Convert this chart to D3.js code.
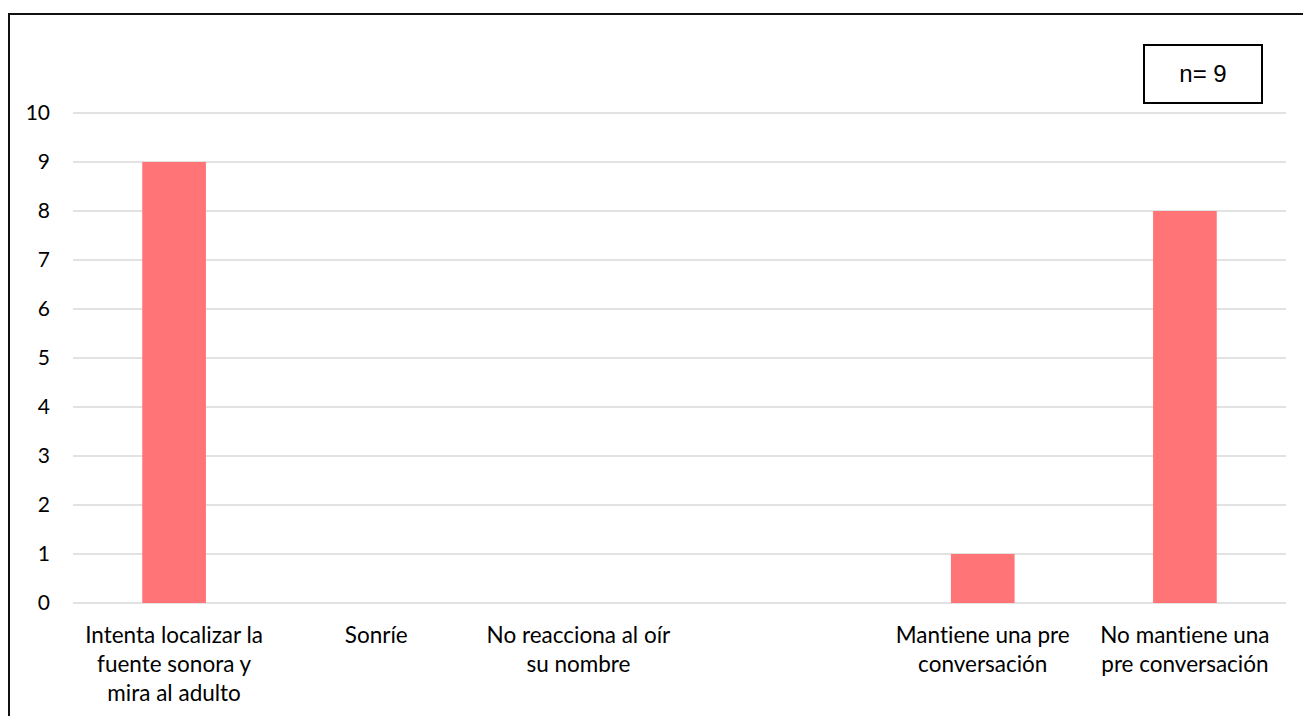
<!DOCTYPE html>
<html>
<head>
<meta charset="utf-8">
<script src="https://cdn.jsdelivr.net/npm/d3@7"></script>
<style>
  body { margin: 0; background: #fff; overflow: hidden; }
  .tick-label, .cat-label { font-family: Lato, "Open Sans", sans-serif; fill: #000; font-variant-ligatures: none; }
</style>
</head>
<body>
<div id="chart"></div>
<script>
/* DATA */
const categories = [
  "Intenta localizar la\nfuente sonora y\nmira al adulto",
  "Sonríe",
  "No reacciona al oír\nsu nombre",
  "",
  "Mantiene una pre\nconversación",
  "No mantiene una\npre conversación"
];
const counts = [9, 0, 0, 0, 1, 8];
const yTicks = [0, 1, 2, 3, 4, 5, 6, 7, 8, 9, 10];
const noteText = "n= 9";

/* CONSTANTS */
const width = 1303,
  height = 716,
  margin = { top: 113, bottom: 113, left: 73, right: 17 };

const svg = d3.select("#chart")
  .append("svg")
  .attr("width", width)
  .attr("height", height);

// outer frame (runs off the right and bottom edges)
svg.append("rect")
  .attr("x", 9)
  .attr("y", 14)
  .attr("width", 1400)
  .attr("height", 800)
  .attr("fill", "none")
  .attr("stroke", "#111")
  .attr("stroke-width", 2);

// scales
const xScale = d3.scaleBand()
  .domain(d3.range(categories.length))
  .range([margin.left, width - margin.right])
  .paddingInner(0.685)
  .paddingOuter(0.3425);

const yScale = d3.scaleLinear()
  .domain([0, 10])
  .range([height - margin.bottom, margin.top]);

// gridlines
svg.append("g")
  .selectAll("line")
  .data(yTicks)
  .join("line")
  .attr("x1", margin.left)
  .attr("x2", width - margin.right)
  .attr("y1", d => yScale(d))
  .attr("y2", d => yScale(d))
  .attr("stroke", "#d9d9d9")
  .attr("stroke-width", 1.3);

// y tick labels
svg.append("g")
  .selectAll("text")
  .data(yTicks)
  .join("text")
  .attr("class", "tick-label")
  .attr("x", 50)
  .attr("y", d => yScale(d))
  .attr("dy", "0.35em")
  .attr("text-anchor", "end")
  .attr("font-size", 21)
  .text(d => d);

// bars
svg.append("g")
  .selectAll("rect")
  .data(counts)
  .join("rect")
  .attr("x", (d, i) => xScale(i))
  .attr("width", xScale.bandwidth())
  .attr("y", d => yScale(d))
  .attr("height", d => yScale(0) - yScale(d))
  .attr("fill", "#ff7577");

// category labels
const labels = svg.append("g")
  .selectAll("text")
  .data(categories)
  .join("text")
  .attr("class", "cat-label")
  .attr("text-anchor", "middle")
  .attr("font-size", 22.5)
  .attr("transform", (d, i) => `translate(${xScale(i) + xScale.bandwidth() / 2},643)`);

labels.selectAll("tspan")
  .data(d => d.split("\n"))
  .join("tspan")
  .attr("x", 0)
  .attr("y", (d, i) => i * 29)
  .text(d => d);

// n box
svg.append("rect")
  .attr("x", 1144)
  .attr("y", 45)
  .attr("width", 118)
  .attr("height", 58)
  .attr("fill", "#fff")
  .attr("stroke", "#000")
  .attr("stroke-width", 2);

svg.append("text")
  .attr("x", 1203)
  .attr("y", 82)
  .attr("text-anchor", "middle")
  .attr("font-family", "'Liberation Sans', Arial, sans-serif")
  .attr("font-size", 24)
  .text(noteText);
</script>
</body>
</html>
